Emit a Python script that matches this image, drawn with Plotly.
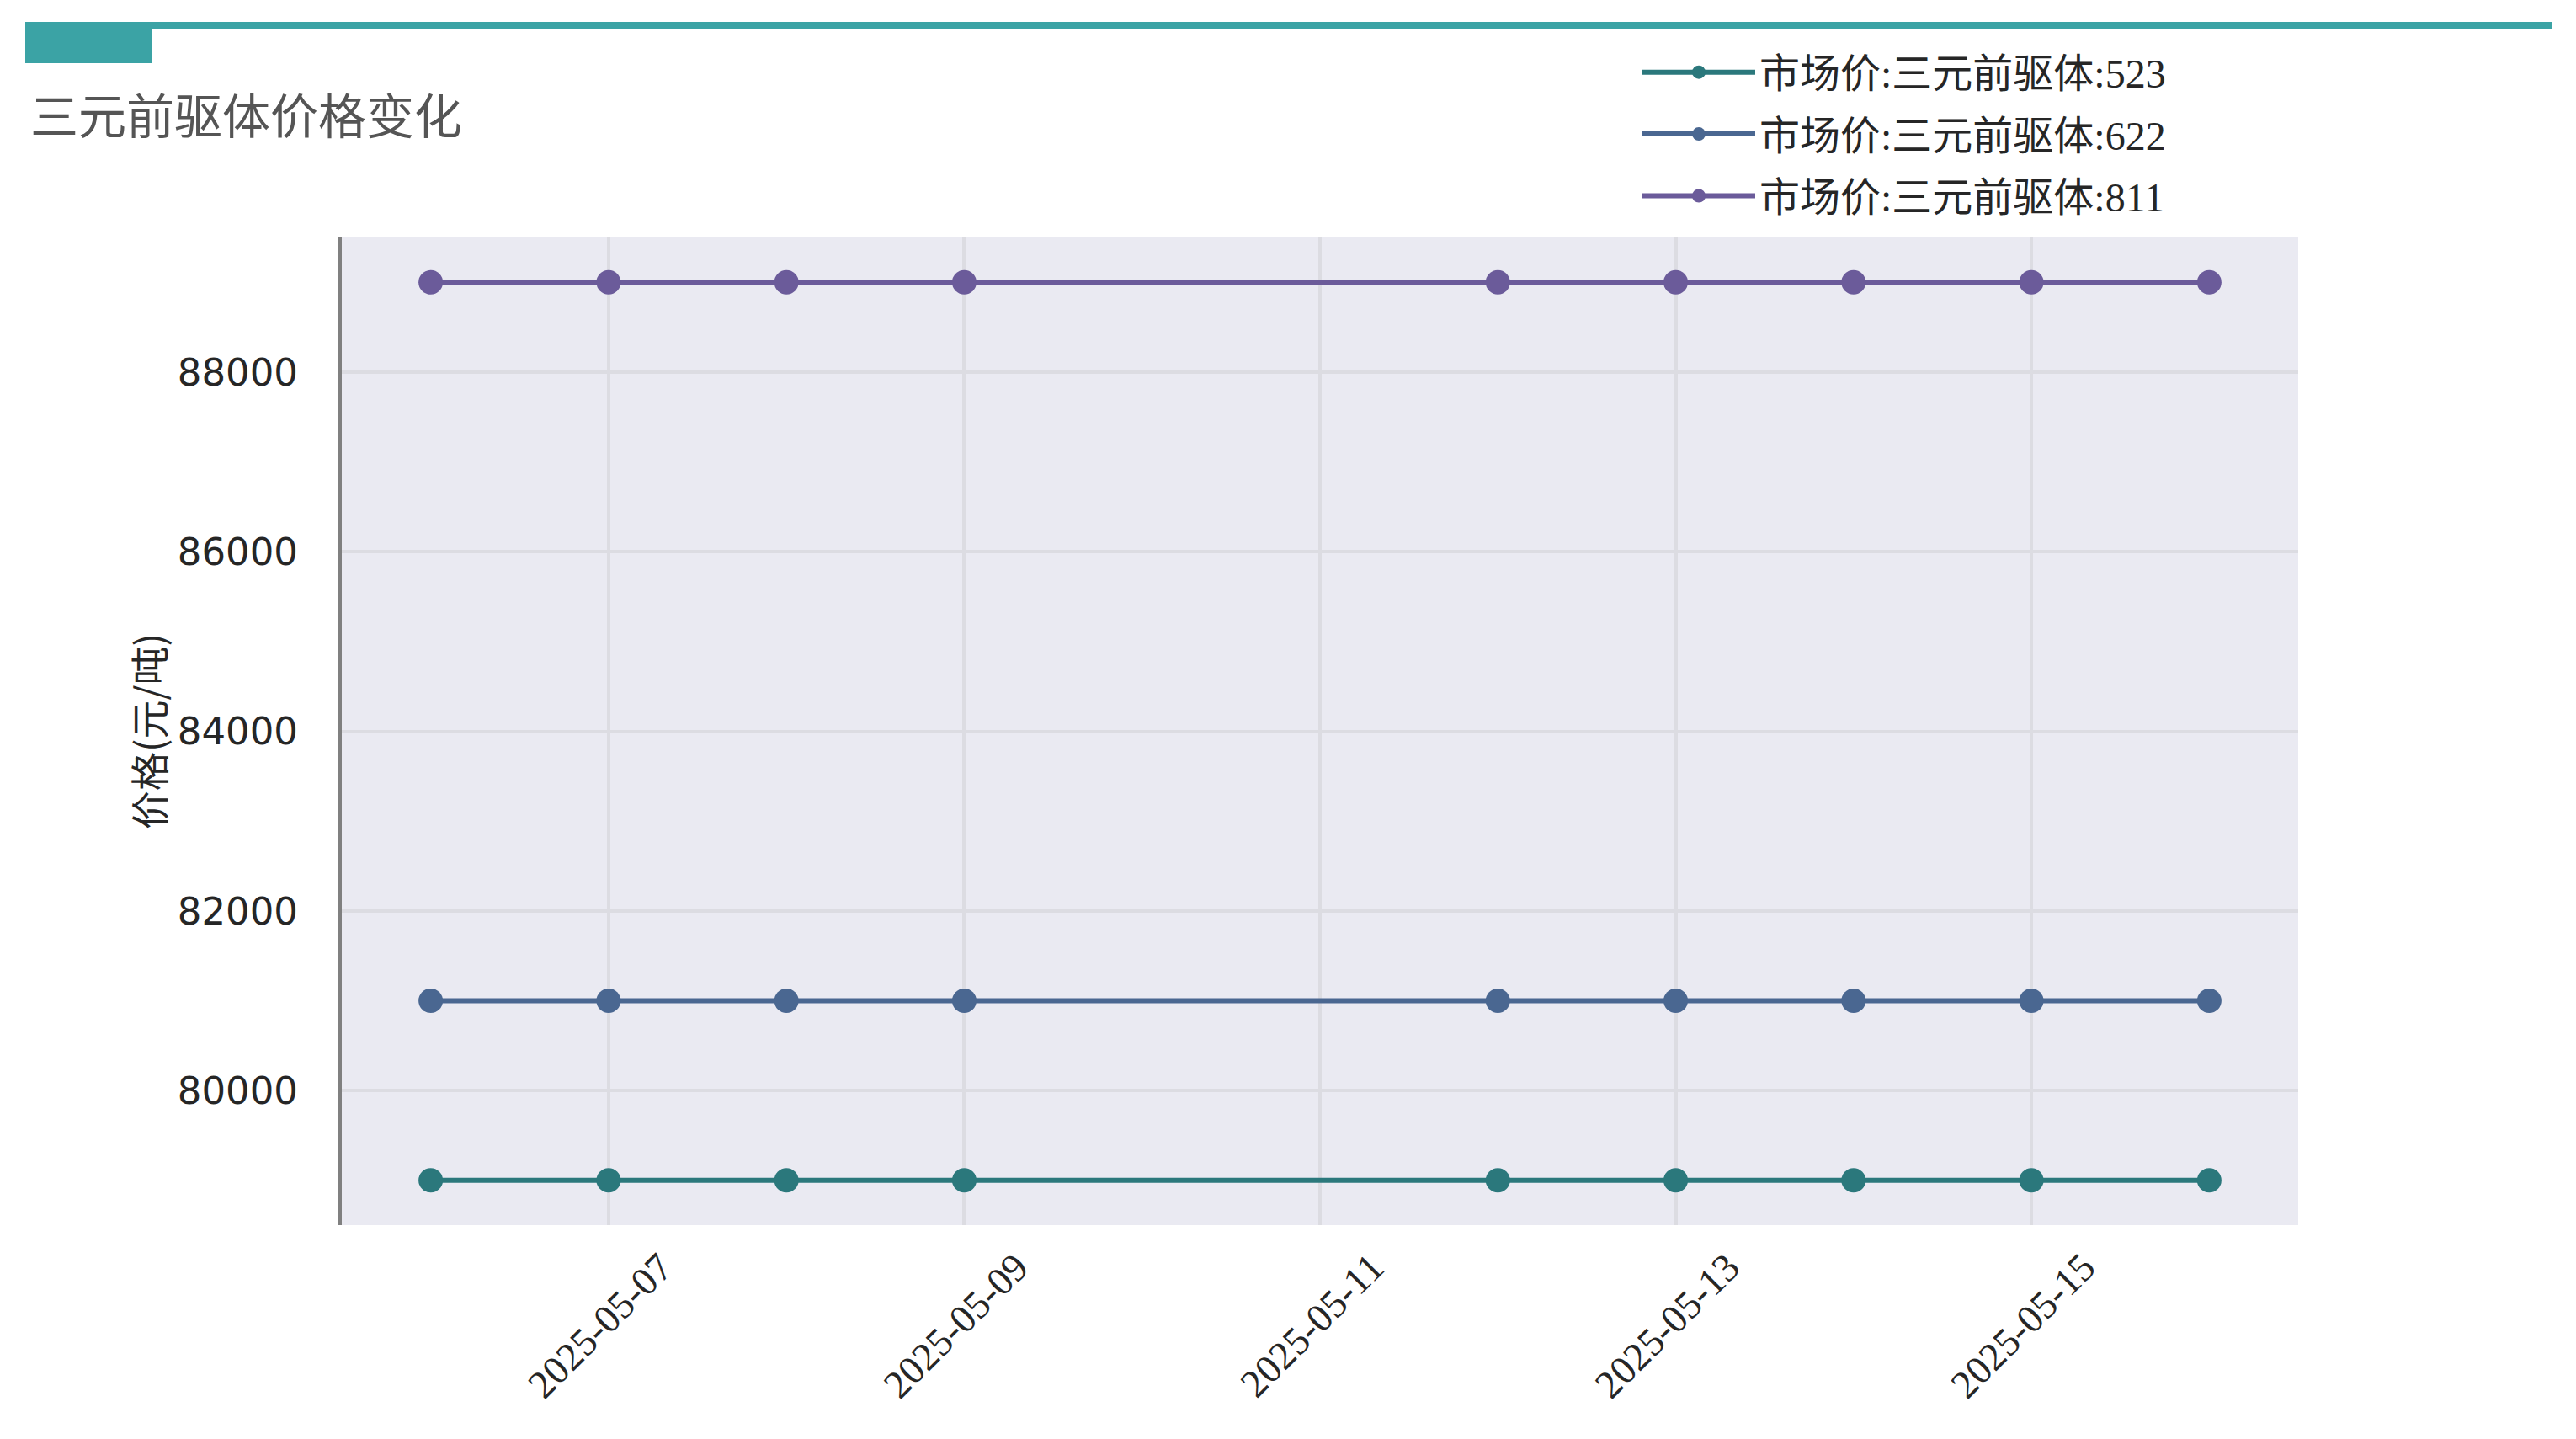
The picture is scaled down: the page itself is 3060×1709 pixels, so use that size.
import plotly.graph_objects as go

# ---- data ----
DATES = [
    "2025-05-06", "2025-05-07", "2025-05-08", "2025-05-09",
    "2025-05-12", "2025-05-13", "2025-05-14", "2025-05-15", "2025-05-16",
]
PRICE_523 = [79000, 79000, 79000, 79000, 79000, 79000, 79000, 79000, 79000]
PRICE_622 = [81000, 81000, 81000, 81000, 81000, 81000, 81000, 81000, 81000]
PRICE_811 = [89000, 89000, 89000, 89000, 89000, 89000, 89000, 89000, 89000]

SERIES_NAMES = ["市场价:三元前驱体:523", "市场价:三元前驱体:622", "市场价:三元前驱体:811"]
TITLE = "三元前驱体价格变化"
Y_TITLE = "价格(元/吨)"

# ---- styling ----
OFF = 8  # page body margin
W, H = 3060 - 2 * OFF, 1709 - 2 * OFF
M_L, M_R, M_T, M_B = 406 - OFF, 330 - OFF, 282 - OFF, 254 - OFF

COLOR_523 = "#2b787c"
COLOR_622 = "#4a6791"
COLOR_811 = "#6b5b9a"
COLOR_ACCENT = "#3ba3a5"
COLOR_BG = "#eaeaf2"
COLOR_GRID = "#dcdce2"
COLOR_SPINE = "#808080"
COLOR_TEXT = "#262626"

CJK = "Noto Sans CJK SC"
SERIF = "Liberation Serif, Noto Sans CJK SC"


def px_x(px):
    """screen pixel column -> paper x"""
    return (px - OFF - M_L) / (W - M_L - M_R)


def px_y(py):
    """screen pixel row (from top) -> paper y"""
    return 1 - (py - OFF - M_T) / (H - M_T - M_B)


fig = go.Figure()

for name, values, color in zip(SERIES_NAMES, [PRICE_523, PRICE_622, PRICE_811],
                               [COLOR_523, COLOR_622, COLOR_811]):
    fig.add_trace(go.Scatter(
        x=DATES, y=values, mode="lines+markers", name=name, legendgroup=name,
        line=dict(color=color, width=6),
        marker=dict(color=color, size=29),
    ))

# decorative header bar and tab
fig.add_shape(type="line", xref="paper", yref="paper",
              x0=px_x(30), x1=px_x(3032), y0=px_y(30), y1=px_y(30),
              line=dict(color=COLOR_ACCENT, width=8))
fig.add_shape(type="rect", xref="paper", yref="paper",
              x0=px_x(30), x1=px_x(180), y0=px_y(26), y1=px_y(75),
              fillcolor=COLOR_ACCENT, line=dict(width=0))

fig.update_layout(
    width=W, height=H,
    paper_bgcolor="white", plot_bgcolor=COLOR_BG,
    margin=dict(l=M_L, r=M_R, t=M_T, b=M_B, autoexpand=False),
    title=dict(
        text=TITLE, xref="container", yref="container",
        x=(36 - OFF) / W, xanchor="left", y=1 - (139 - OFF) / H, yanchor="middle",
        font=dict(family=CJK, size=57, color="#555555"),
    ),
    legend=dict(
        x=px_x(1946), xanchor="left", y=px_y(48), yanchor="top",
        font=dict(family=SERIF, size=48, color=COLOR_TEXT),
        itemwidth=134, tracegroupgap=8, bgcolor="rgba(0,0,0,0)",
    ),
    showlegend=True,
    hovermode="closest",
)

fig.update_xaxes(
    type="date",
    range=["2025-05-05 12:00", "2025-05-16 12:00"],
    tick0="2025-05-07", dtick=2 * 86400000, tickformat="%Y-%m-%d",
    tickangle=-45, ticks="",
    ticklabelshift=62, ticklabelstandoff=12,
    tickfont=dict(family=SERIF, size=47, color=COLOR_TEXT),
    showgrid=True, gridcolor=COLOR_GRID, gridwidth=3.5,
    showline=False, zeroline=False,
)
fig.update_yaxes(
    range=[78500, 89500], tick0=80000, dtick=2000, tickformat="d",
    ticks="", ticklabelstandoff=38,
    tickfont=dict(family="DejaVu Sans", size=45, color=COLOR_TEXT),
    title=dict(text=Y_TITLE, standoff=2, font=dict(family=CJK, size=46, color=COLOR_TEXT)),
    showgrid=True, gridcolor=COLOR_GRID, gridwidth=3.5,
    showline=True, linecolor=COLOR_SPINE, linewidth=5, zeroline=False,
)

fig.write_html("out.html")
